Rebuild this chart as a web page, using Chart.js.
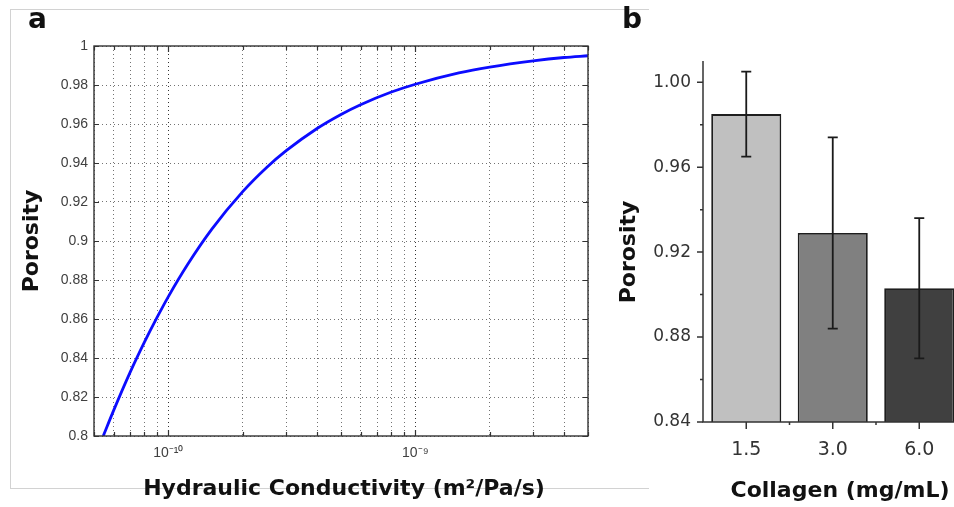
<!DOCTYPE html>
<html><head><meta charset="utf-8">
<script src="https://cdn.jsdelivr.net/npm/chart.js@4.4.1/dist/chart.umd.min.js"></script>
<style>
html,body{margin:0;padding:0;background:#fff;}
body{width:954px;height:507px;overflow:hidden;position:relative;}
.abs{position:absolute;}
#frameA{left:10px;top:9px;width:638px;height:478px;border:1px solid #d2d2d2;border-right:none;}
#wrapA{left:0;top:0;width:648px;height:507px;}
#wrapB{left:648px;top:0;width:340px;height:507px;}
.t{position:absolute;font-family:"DejaVu Sans",sans-serif;font-weight:bold;color:#111;white-space:nowrap;line-height:1;}
</style></head><body>
<div id="frameA" class="abs"></div>
<div id="wrapA" class="abs"><canvas id="cA"></canvas></div>
<div id="wrapB" class="abs"><canvas id="cB"></canvas></div>
<div class="t" style="left:28px;top:5px;font-size:28px;">a</div>
<div class="t" style="left:622px;top:5px;font-size:28px;">b</div>
<div class="t" style="left:344px;top:477px;font-size:22px;transform:translateX(-50%);">Hydraulic Conductivity (m²/Pa/s)</div>
<div class="t" style="left:840px;top:479px;font-size:22px;transform:translateX(-50%);">Collagen (mg/mL)</div>
<div class="t" style="left:31px;top:241px;font-size:22px;transform:translate(-50%,-50%) rotate(-90deg);">Porosity</div>
<div class="t" style="left:628px;top:252px;font-size:22px;transform:translate(-50%,-50%) rotate(-90deg);">Porosity</div>
<script>
// ---------- Panel a data ----------
const kValues = [5.45e-11, 6e-11, 7e-11, 8e-11, 9e-11, 1e-10, 1.2e-10, 1.5e-10, 2e-10, 2.5e-10, 3e-10, 4e-10, 5e-10, 6e-10, 8e-10, 1e-9, 1.5e-9, 2e-9, 3e-9, 4e-9, 5e-9];
const porosityA = [0.8000, 0.8130, 0.8326, 0.8481, 0.8608, 0.8715, 0.8882, 0.9061, 0.9253, 0.9377, 0.9463, 0.9577, 0.9649, 0.9699, 0.9764, 0.9804, 0.9862, 0.9892, 0.9924, 0.9941, 0.9950];
const xTickValues = [5e-11, 6e-11, 7e-11, 8e-11, 9e-11, 1e-10, 2e-10, 3e-10, 4e-10, 5e-10, 6e-10, 7e-10, 8e-10, 9e-10, 1e-9, 2e-9, 3e-9, 4e-9, 5e-9];
const xTickLabels = ['', '', '', '', '', '10\u207B\u00B9\u2070', '', '', '', '', '', '', '', '', '10\u207B\u2079', '', '', '', ''];
const yTickValuesA = [0.8, 0.82, 0.84, 0.86, 0.88, 0.9, 0.92, 0.94, 0.96, 0.98, 1];
const yTickLabelsA = ['0.8', '0.82', '0.84', '0.86', '0.88', '0.9', '0.92', '0.94', '0.96', '0.98', '1'];

// ---------- Panel b data ----------
const collagen = ['1.5', '3.0', '6.0'];
const porosityB = [0.985, 0.929, 0.903];
const porosityErr = [0.020, 0.045, 0.033];
const barColors = ['#c0c0c0', '#808080', '#404040'];
const yTickValuesB = [0.84, 0.88, 0.92, 0.96, 1.00];
const yTickLabelsB = ['0.84', '0.88', '0.92', '0.96', '1.00'];
const yMinorB = [0.86, 0.90, 0.94, 0.98];

const isDecade = v => Math.abs(Math.log10(v) - Math.round(Math.log10(v))) < 1e-6;

const boxA = {
  id: 'boxA',
  afterDatasetsDraw(chart) {
    const {ctx, chartArea: a, scales: {x, y}} = chart;
    ctx.save();
    ctx.strokeStyle = '#333';
    ctx.lineWidth = 1.4;
    ctx.strokeRect(a.left, a.top, a.right - a.left, a.bottom - a.top);
    ctx.beginPath();
    y.ticks.forEach(t => {
      const py = Math.round(y.getPixelForValue(t.value)) + 0.5;
      ctx.moveTo(a.left, py); ctx.lineTo(a.left + 5, py);
      ctx.moveTo(a.right, py); ctx.lineTo(a.right - 5, py);
    });
    x.ticks.forEach(t => {
      const px = Math.round(x.getPixelForValue(t.value)) + 0.5;
      const L = isDecade(t.value) ? 6 : 4;
      ctx.moveTo(px, a.bottom); ctx.lineTo(px, a.bottom - L);
      ctx.moveTo(px, a.top); ctx.lineTo(px, a.top + L);
    });
    ctx.lineWidth = 1.2;
    ctx.stroke();
    ctx.restore();
  }
};

new Chart(document.getElementById('cA'), {
  type: 'line',
  data: {
    datasets: [{
      data: kValues.map((k, i) => ({x: k, y: porosityA[i]})),
      borderColor: '#0c0cff',
      borderWidth: 2.8,
      pointRadius: 0,
      fill: false,
      cubicInterpolationMode: 'monotone'
    }]
  },
  options: {
    responsive: true,
    maintainAspectRatio: false,
    animation: false,
    layout: {padding: {left: 0, top: 46, right: 60, bottom: 0}},
    plugins: {legend: {display: false}, tooltip: {enabled: false}},
    scales: {
      x: {
        type: 'logarithmic',
        min: 5e-11, max: 5e-9,
        afterBuildTicks: s => { s.ticks = xTickValues.map(v => ({value: v})); },
        afterFit: s => { s.height = 71; },
        ticks: {
          autoSkip: false, maxRotation: 0, minRotation: 0, padding: 9,
          color: '#404040', font: {family: '"Liberation Sans", Arial, sans-serif', size: 14},
          callback: (v, i) => xTickLabels[i]
        },
        grid: {
          drawTicks: false, lineWidth: 1,
          color: c => (c.tick && isDecade(c.tick.value)) ? 'rgba(0,0,0,0.8)' : 'rgba(0,0,0,0.55)'
        },
        border: {display: false, dash: [1, 3]}
      },
      y: {
        type: 'linear',
        min: 0.8, max: 1,
        afterBuildTicks: s => { s.ticks = yTickValuesA.map(v => ({value: v})); },
        afterFit: s => { s.width = 94; },
        ticks: {
          padding: 6, color: '#404040',
          font: {family: '"Liberation Sans", Arial, sans-serif', size: 14},
          callback: (v, i) => yTickLabelsA[i]
        },
        grid: {drawTicks: false, lineWidth: 1, color: 'rgba(0,0,0,0.55)'},
        border: {display: false, dash: [1, 3]}
      }
    }
  },
  plugins: [boxA]
});

const axesB = {
  id: 'axesB',
  afterDatasetsDraw(chart) {
    const {ctx, chartArea: a, scales: {x, y}} = chart;
    ctx.save();
    const meta = chart.getDatasetMeta(0);
    ctx.strokeStyle = '#1a1a1a';
    ctx.lineWidth = 1.8;
    meta.data.forEach((bar, i) => {
      const yt = y.getPixelForValue(porosityB[i] + porosityErr[i]);
      const yb = y.getPixelForValue(porosityB[i] - porosityErr[i]);
      ctx.beginPath();
      ctx.moveTo(bar.x, yt); ctx.lineTo(bar.x, yb);
      ctx.moveTo(bar.x - 5, yt); ctx.lineTo(bar.x + 5, yt);
      ctx.moveTo(bar.x - 5, yb); ctx.lineTo(bar.x + 5, yb);
      ctx.stroke();
    });
    ctx.strokeStyle = '#333';
    ctx.lineWidth = 1.5;
    ctx.beginPath();
    ctx.moveTo(a.left, a.top); ctx.lineTo(a.left, a.bottom); ctx.lineTo(a.right, a.bottom);
    ctx.stroke();
    ctx.beginPath();
    y.ticks.forEach(t => {
      const py = y.getPixelForValue(t.value);
      ctx.moveTo(a.left, py); ctx.lineTo(a.left - 6, py);
    });
    yMinorB.forEach(v => {
      const py = y.getPixelForValue(v);
      ctx.moveTo(a.left, py); ctx.lineTo(a.left - 3, py);
    });
    collagen.forEach((c, i) => {
      const px = x.getPixelForValue(i);
      ctx.moveTo(px, a.bottom); ctx.lineTo(px, a.bottom + 7);
      if (i < collagen.length - 1) {
        const pm = (px + x.getPixelForValue(i + 1)) / 2;
        ctx.moveTo(pm, a.bottom); ctx.lineTo(pm, a.bottom + 3);
      }
    });
    ctx.stroke();
    ctx.restore();
  }
};

new Chart(document.getElementById('cB'), {
  type: 'bar',
  data: {
    labels: collagen,
    datasets: [{
      data: porosityB,
      backgroundColor: barColors,
      borderColor: '#1e1e1e',
      borderWidth: 1.8,
      borderSkipped: false,
      categoryPercentage: 1,
      barPercentage: 0.81
    }]
  },
  options: {
    responsive: true,
    maintainAspectRatio: false,
    animation: false,
    layout: {padding: {left: 0, top: 61, right: 25.5, bottom: 0}},
    plugins: {legend: {display: false}, tooltip: {enabled: false}},
    scales: {
      x: {
        afterFit: s => { s.height = 85; },
        ticks: {
          padding: 17, color: '#333', maxRotation: 0,
          font: {family: '"DejaVu Sans", sans-serif', size: 19}
        },
        grid: {display: false, drawTicks: false},
        border: {display: false}
      },
      y: {
        min: 0.84, max: 1.01,
        afterBuildTicks: s => { s.ticks = yTickValuesB.map(v => ({value: v})); },
        afterFit: s => { s.width = 55; },
        ticks: {
          padding: 12, color: '#333',
          font: {family: '"DejaVu Sans", sans-serif', size: 17},
          callback: (v, i) => yTickLabelsB[i]
        },
        grid: {display: false, drawTicks: false},
        border: {display: false}
      }
    }
  },
  plugins: [axesB]
});
</script>
</body></html>
